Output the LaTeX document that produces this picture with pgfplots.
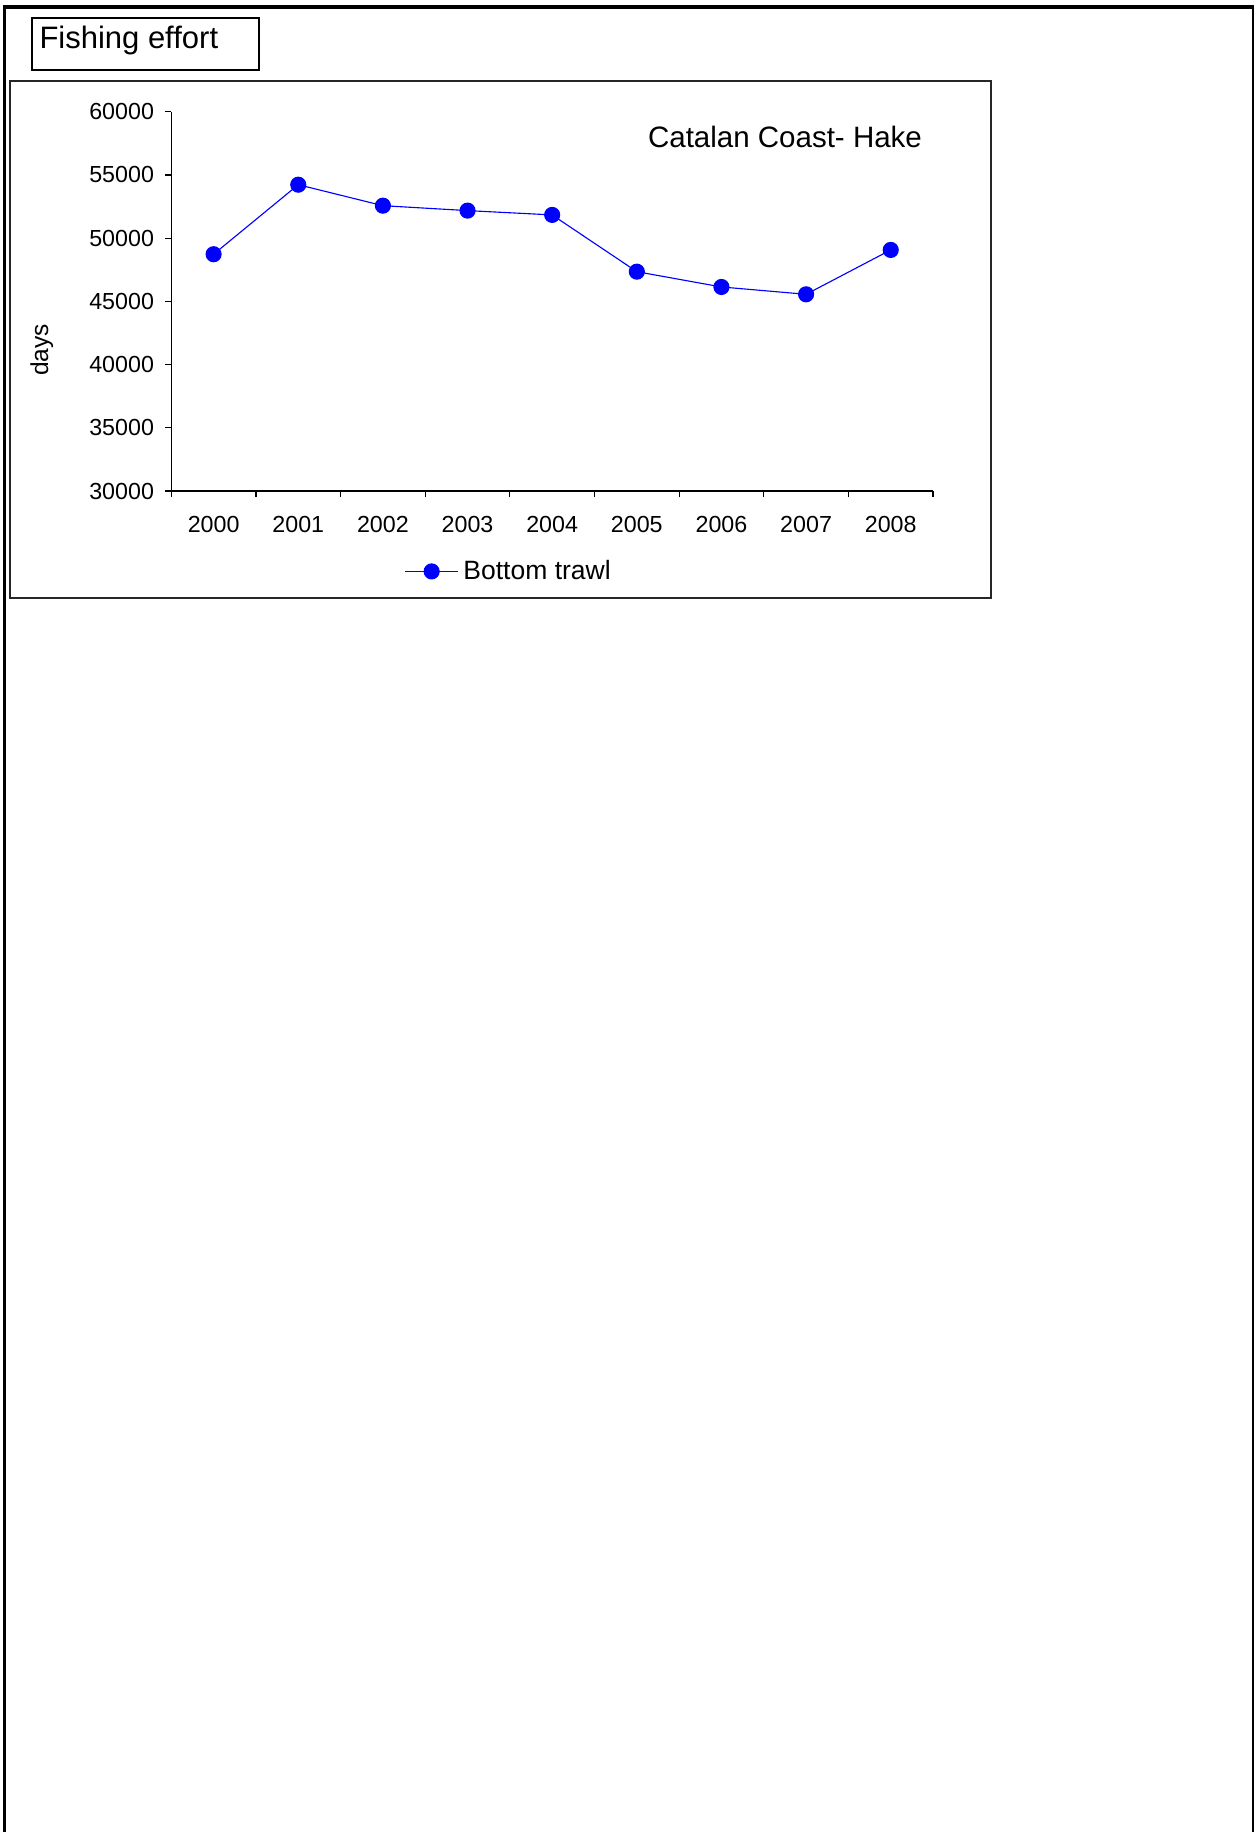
\documentclass[border=0pt]{standalone}
\usepackage{fontspec}
\setmainfont{Liberation Sans}
\usepackage{pgfplots}
\pgfplotsset{compat=1.18}
\definecolor{pureblue}{RGB}{0,0,255}
\begin{document}
\begin{tikzpicture}[x=0.4pt,y=-0.4pt]
\useasboundingbox (0,0) rectangle (1256,1832);
% page border (open at the bottom)
\draw[line width=1.2pt] (4.5,5.5) -- (4.5,1832);
\draw[line width=1.6pt] (3,7) -- (1254,7);
\draw[line width=0.8pt] (1253,5.5) -- (1253,1832);
% "Fishing effort" box
\draw[line width=0.6pt] (32,18) rectangle (259,70);
\node[anchor=base west, inner sep=0, font=\fontsize{12.4}{14}\selectfont] at (39,48.3) {Fishing effort};
% chart frame
\draw[line width=0.6pt, draw=black!85] (10,81) rectangle (991,598);
% chart title
\node[anchor=center, inner sep=0, font=\fontsize{11.8}{14}\selectfont] at (785,137) {Catalan Coast- Hake};
% y label
\node[rotate=90, anchor=base, inner sep=0, font=\fontsize{9.8}{12}\selectfont] at (48,350) {days};
\begin{axis}[
  at={(68.52pt,-196.4pt)}, anchor=south west,
  scale only axis, width=304.7pt, height=151.7pt,
  xmin=0, xmax=9, ymin=30000, ymax=60000,
  axis x line*=bottom, axis y line*=left,
  axis line style={-, line width=0.5pt, black},
  xtick={0.5,1.5,...,8.5},
  xticklabels={2000,2001,2002,2003,2004,2005,2006,2007,2008},
  minor xtick={0,1,...,9},
  major x tick style={draw=none},
  minor tick length=2.4pt,
  major tick length=2.4pt,
  tick align=outside,
  tick style={line width=0.5pt, black},
  ytick={30000,35000,...,60000},
  scaled y ticks=false,
  yticklabel={\pgfmathprintnumber[fixed,precision=0,1000 sep={},assume math mode=true]{\tick}},
  ticklabel style={font=\fontsize{9.3}{11}\selectfont},
  yticklabel style={xshift=-1pt},
  xticklabel style={yshift=-4pt},
  clip=false,
  legend style={at={(axis description cs:0.445,-0.212)}, anchor=center, draw=none, fill=none,
    font=\fontsize{10.6}{12}\selectfont, inner sep=0pt},
  legend image code/.code={\draw[mark repeat=2,mark phase=2,#1] plot coordinates {(0pt,0pt) (10.5pt,0pt) (21pt,0pt)};},
]
\addplot[color=pureblue, line width=0.45pt, mark=*, mark size=3pt, mark options={fill=pureblue, draw=pureblue}]
  coordinates {
  (0.5,48730) (1.5,54230) (2.5,52570) (3.5,52180) (4.5,51840)
  (5.5,47350) (6.5,46140) (7.5,45560) (8.5,49070)
  };
\addlegendentry{Bottom trawl}
\end{axis}
\end{tikzpicture}
\end{document}
